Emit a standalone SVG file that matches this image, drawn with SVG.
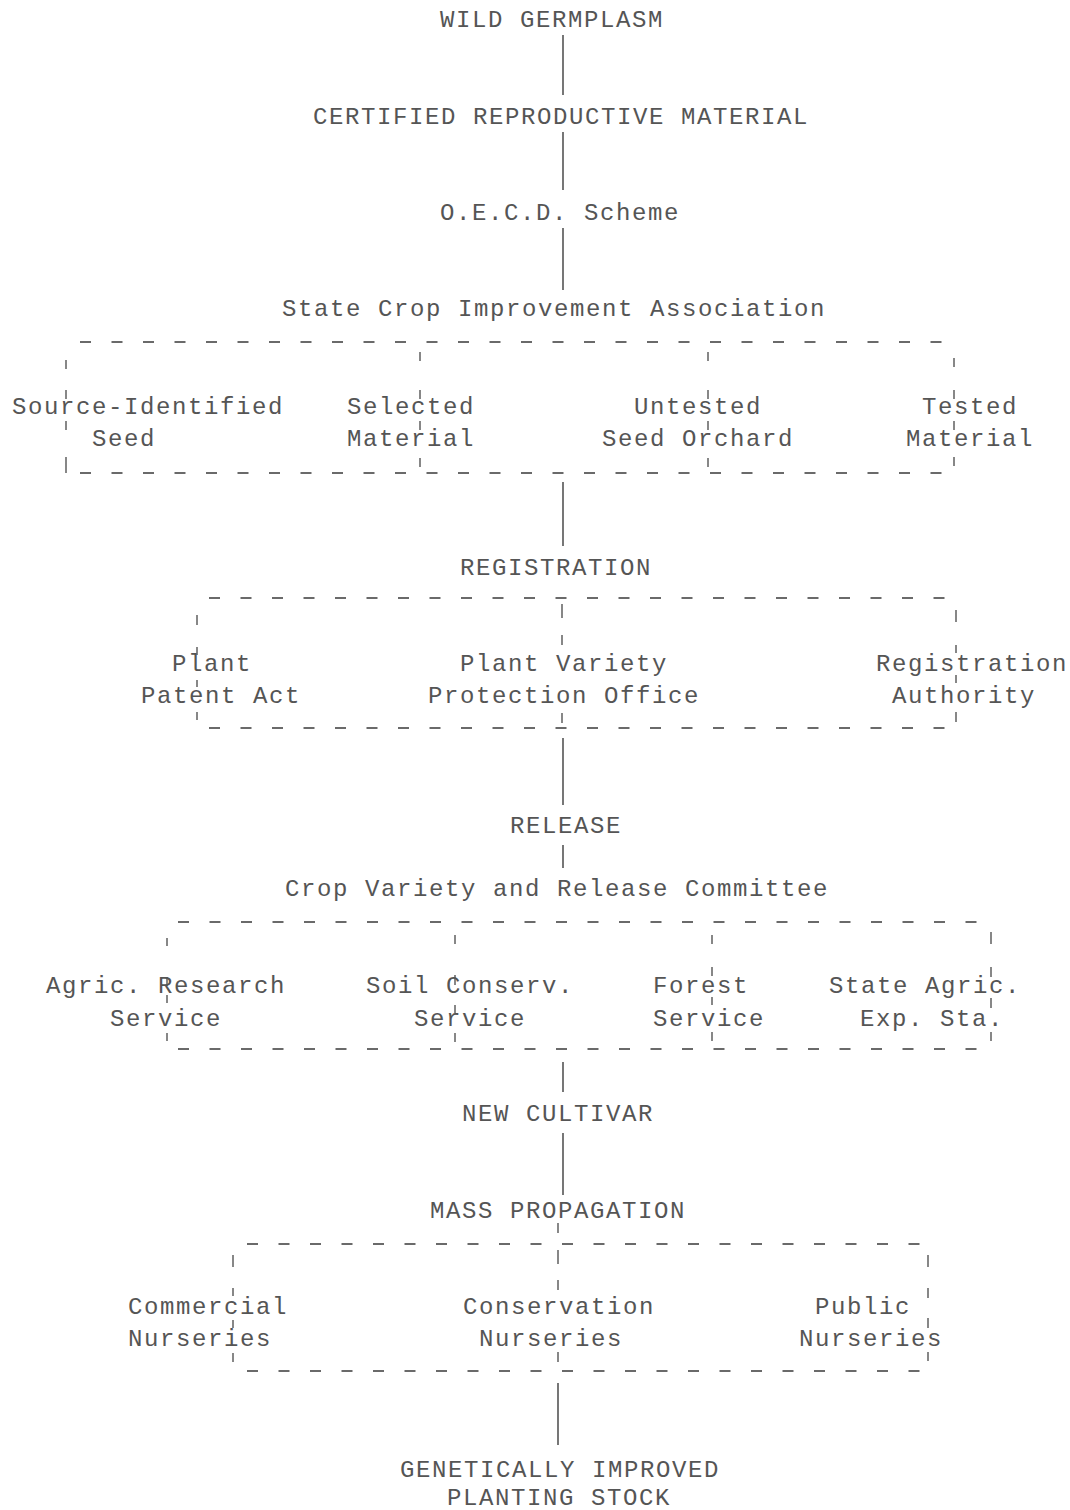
<svg xmlns="http://www.w3.org/2000/svg" width="1070" height="1510" viewBox="0 0 1070 1510">
<style>
.t{font-family:"Liberation Mono","DejaVu Sans Mono",monospace;font-size:24px;letter-spacing:1.6px;fill:#555}
.h{stroke:#6a6a6a;stroke-width:2;stroke-dasharray:11 20.5;fill:none}
.k{stroke:#6a6a6a;stroke-width:1.6;fill:none}
.c{stroke:#555;stroke-width:1.6;fill:none}
</style>
<rect width="1070" height="1510" fill="#fff"/>
<g id="connectors">
<path class="c" d="M563 35V95M563 132V190M563 228V290M563 482V546M563 738V805M563 845V868M563 1062V1092M563 1133V1195M558 1383V1445"/>
<path class="k" d="M558 1223V1233"/>
</g>
<g id="box-certification">
<path class="h" d="M80 342H958M80 473H958"/>
<path class="k" d="M66 360v9M66 390v9M66 421v9M66 457v9M66 466v7"/>
<path class="k" d="M420 352v9M420 390v9M420 421v9M420 458v9"/>
<path class="k" d="M708 352v9M708 390v9M708 421v9M708 458v9"/>
<path class="k" d="M954 358v9M954 390v9M954 421v9M954 457v9"/>
</g>
<g id="box-registration">
<path class="h" d="M209 598H958M209 728H958"/>
<path class="k" d="M197 615v10M197 647v8M197 680v7M197 712v8"/>
<path class="k" d="M562 604v14M562 635v10M562 713v10"/>
<path class="k" d="M956 610v12M956 645v8M956 675v8M956 712v10"/>
</g>
<g id="box-release">
<path class="h" d="M178 922H993M178 1049H993"/>
<path class="k" d="M167 938v8M167 977v9M167 995v8M167 1033v8"/>
<path class="k" d="M455 935v9M455 975v10M455 1005v8M455 1033v9"/>
<path class="k" d="M712 935v9M712 967v9M712 997v8M712 1032v9"/>
<path class="k" d="M991 932v12M991 967v10M991 998v10M991 1032v9"/>
</g>
<g id="box-propagation">
<path class="h" d="M247 1244H930M247 1371H930"/>
<path class="k" d="M233 1255v12M233 1288v8M233 1320v8M233 1353v9"/>
<path class="k" d="M558 1250v14M558 1280v10M558 1352v10"/>
<path class="k" d="M928 1255v12M928 1288v10M928 1318v10M928 1352v9"/>
</g>
<g id="n-wild"><text class="t" x="440" y="27">WILD GERMPLASM</text></g>
<g id="n-certified"><text class="t" x="313" y="124">CERTIFIED REPRODUCTIVE MATERIAL</text></g>
<g id="n-oecd"><text class="t" x="440" y="220">O.E.C.D. Scheme</text></g>
<g id="n-state-crop"><text class="t" x="282" y="316">State Crop Improvement Association</text></g>
<g id="n-source"><text class="t" x="12" y="414">Source-Identified</text><text class="t" x="92" y="446">Seed</text></g>
<g id="n-selected"><text class="t" x="347" y="414">Selected</text><text class="t" x="347" y="446">Material</text></g>
<g id="n-untested"><text class="t" x="634" y="414">Untested</text><text class="t" x="602" y="446">Seed Orchard</text></g>
<g id="n-tested"><text class="t" x="922" y="414">Tested</text><text class="t" x="906" y="446">Material</text></g>
<g id="n-registration"><text class="t" x="460" y="575">REGISTRATION</text></g>
<g id="n-patent"><text class="t" x="172" y="671">Plant</text><text class="t" x="141" y="703">Patent Act</text></g>
<g id="n-pvpo"><text class="t" x="460" y="671">Plant Variety</text><text class="t" x="428" y="703">Protection Office</text></g>
<g id="n-authority"><text class="t" x="876" y="671">Registration</text><text class="t" x="892" y="703">Authority</text></g>
<g id="n-release"><text class="t" x="510" y="833">RELEASE</text></g>
<g id="n-committee"><text class="t" x="285" y="896">Crop Variety and Release Committee</text></g>
<g id="n-ars"><text class="t" x="46" y="993">Agric. Research</text><text class="t" x="110" y="1026">Service</text></g>
<g id="n-scs"><text class="t" x="366" y="993">Soil Conserv.</text><text class="t" x="414" y="1026">Service</text></g>
<g id="n-forest"><text class="t" x="653" y="993">Forest</text><text class="t" x="653" y="1026">Service</text></g>
<g id="n-saes"><text class="t" x="829" y="993">State Agric.</text><text class="t" x="860" y="1026">Exp. Sta.</text></g>
<g id="n-cultivar"><text class="t" x="462" y="1121">NEW CULTIVAR</text></g>
<g id="n-mass"><text class="t" x="430" y="1218">MASS PROPAGATION</text></g>
<g id="n-commercial"><text class="t" x="128" y="1314">Commercial</text><text class="t" x="128" y="1346">Nurseries</text></g>
<g id="n-conservation"><text class="t" x="463" y="1314">Conservation</text><text class="t" x="479" y="1346">Nurseries</text></g>
<g id="n-public"><text class="t" x="815" y="1314">Public</text><text class="t" x="799" y="1346">Nurseries</text></g>
<g id="n-stock"><text class="t" x="400" y="1477">GENETICALLY IMPROVED</text><text class="t" x="447" y="1505">PLANTING STOCK</text></g>
</svg>
